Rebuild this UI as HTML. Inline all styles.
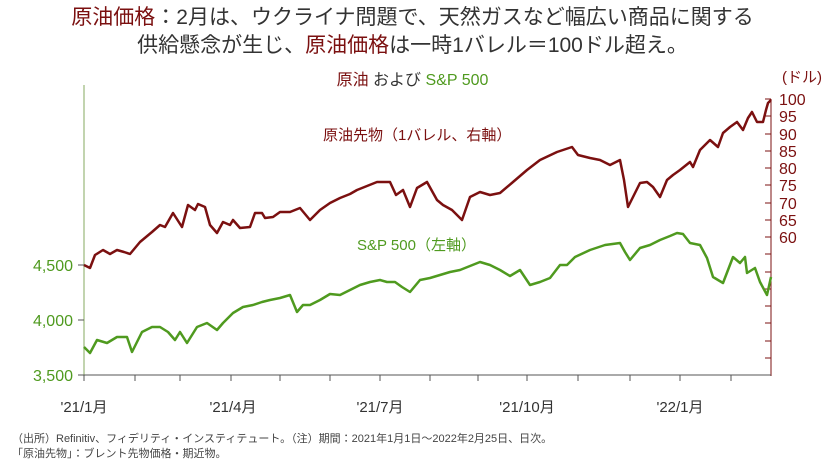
<!DOCTYPE html>
<html><head><meta charset="utf-8"><style>
body{margin:0;width:825px;height:464px;background:#fff;font-family:"Liberation Sans","Noto Sans CJK JP",sans-serif;overflow:hidden;position:relative}
.t{position:absolute;left:0;width:825px;text-align:center;font-size:21px;color:#333;line-height:24px}
.r{color:#7b1010}
.g{color:#4f9a1f}
.fn{position:absolute;left:12px;font-size:11px;color:#444}
</style></head><body>
<div class="t" style="top:6px"><span class="r">原油価格</span>：2月は、ウクライナ問題で、天然ガスなど幅広い商品に関する</div>
<div class="t" style="top:34px">供給懸念が生じ、<span class="r">原油価格</span>は一時1バレル＝100ドル超え。</div>
<div style="position:absolute;top:66px;left:0;width:825px;text-align:center;font-size:16px;color:#333"><span class="r">原油</span> および <span class="g">S&amp;P 500</span></div>
<svg width="825" height="464" style="position:absolute;left:0;top:0" font-family="Liberation Sans, Noto Sans CJK JP, sans-serif">
<line x1="84" y1="85" x2="84" y2="376" stroke="#9ab87a" stroke-width="1.2"/>
<line x1="771" y1="99" x2="771" y2="376" stroke="#7b1010" stroke-width="1"/>
<line x1="78" y1="375" x2="771" y2="375" stroke="#555" stroke-width="1"/>
<g stroke="#555">
<line x1="78" y1="265" x2="84" y2="265"/><line x1="78" y1="320" x2="84" y2="320"/>
<line x1="84" y1="375" x2="84" y2="381"/><line x1="135" y1="375" x2="135" y2="381"/><line x1="180" y1="375" x2="180" y2="381"/><line x1="231" y1="375" x2="231" y2="381"/><line x1="280" y1="375" x2="280" y2="381"/><line x1="330" y1="375" x2="330" y2="381"/><line x1="380" y1="375" x2="380" y2="381"/><line x1="430" y1="375" x2="430" y2="381"/><line x1="478" y1="375" x2="478" y2="381"/><line x1="527" y1="375" x2="527" y2="381"/><line x1="578" y1="375" x2="578" y2="381"/><line x1="630" y1="375" x2="630" y2="381"/><line x1="680" y1="375" x2="680" y2="381"/><line x1="731" y1="375" x2="731" y2="381"/>
</g>
<g stroke="#7b1010">
<line x1="765" y1="99" x2="771" y2="99"/><line x1="765" y1="116" x2="771" y2="116"/><line x1="765" y1="134" x2="771" y2="134"/><line x1="765" y1="151" x2="771" y2="151"/><line x1="765" y1="168" x2="771" y2="168"/><line x1="765" y1="185" x2="771" y2="185"/><line x1="765" y1="203" x2="771" y2="203"/><line x1="765" y1="220" x2="771" y2="220"/><line x1="765" y1="237" x2="771" y2="237"/><line x1="765" y1="254" x2="771" y2="254"/><line x1="765" y1="272" x2="771" y2="272"/><line x1="765" y1="289" x2="771" y2="289"/><line x1="765" y1="306" x2="771" y2="306"/><line x1="765" y1="323" x2="771" y2="323"/><line x1="765" y1="341" x2="771" y2="341"/><line x1="765" y1="358" x2="771" y2="358"/>
</g>
<g fill="#7b1010" font-size="16">
<text x="822" y="82" text-anchor="end" font-size="15">(ドル)</text>
<text x="779" y="105">100</text><text x="779" y="122">95</text><text x="779" y="140">90</text><text x="779" y="157">85</text><text x="779" y="174">80</text><text x="779" y="191">75</text><text x="779" y="209">70</text><text x="779" y="226">65</text><text x="779" y="243">60</text>
<text x="323" y="140" font-size="15">原油先物（1バレル、右軸）</text>
</g>
<g fill="#4f9a1f" font-size="16" text-anchor="end">
<text x="73" y="271">4,500</text><text x="73" y="326">4,000</text><text x="73" y="381">3,500</text>
</g>
<text x="357" y="250" fill="#4f9a1f" font-size="15">S&amp;P 500（左軸）</text>
<g fill="#333" font-size="15" text-anchor="middle">
<text x="84" y="412">'21/1月</text><text x="233" y="412">'21/4月</text><text x="380" y="412">'21/7月</text><text x="527" y="412">'21/10月</text><text x="680" y="412">'22/1月</text>
</g>
<polyline fill="none" stroke="#7b1010" stroke-width="2.5" stroke-linejoin="round" points="84,265 90,268 95,255 103,250 110,254 117,250 124,252 130,254 140,242 152,232 160,225 165,227 173,213 182,227 188,205 195,210 198,204 205,207 210,225 217,233 223,222 230,225 233,220 240,228 250,227 255,213 262,213 265,218 273,217 280,212 290,212 300,208 310,220 320,210 330,203 340,198 350,194 357,190 367,186 377,182 390,182 396,195 403,190 410,207 417,188 427,182 437,200 443,205 452,210 462,220 470,197 480,192 490,195 500,193 513,182 527,170 540,160 557,152 572,147 578,155 590,158 600,160 610,165 620,160 624,180 628,207 634,195 640,183 647,182 653,187 660,197 667,180 673,175 680,170 690,162 693,167 700,150 710,140 718,147 723,133 730,127 737,122 743,130 748,118 752,112 757,122 763,122 766,110 768,103 771,100"/>
<polyline fill="none" stroke="#4f9a1f" stroke-width="2.5" stroke-linejoin="round" points="84,347 90,353 97,340 107,343 117,337 127,337 132,352 142,332 152,327 160,327 168,332 175,340 180,332 187,343 197,327 207,323 217,330 223,323 233,313 243,307 253,305 262,302 270,300 280,298 290,295 297,312 303,305 310,305 320,300 330,294 340,295 350,290 360,285 370,282 380,280 387,282 395,282 402,287 410,292 420,280 430,278 440,275 450,272 460,270 470,266 480,262 490,265 500,270 510,276 520,270 530,285 540,282 550,278 560,265 567,265 575,257 590,250 605,245 620,243 625,252 630,260 640,248 650,245 660,240 670,236 677,233 683,234 690,243 700,245 707,258 713,277 723,283 733,257 740,263 745,257 747,273 755,268 760,282 767,295 771,277"/>
</svg>
<div class="fn" style="top:430px">（出所）Refinitiv、フィデリティ・インスティテュート。（注）期間：2021年1月1日～2022年2月25日、日次。</div>
<div class="fn" style="top:445px">「原油先物」：ブレント先物価格・期近物。</div>
</body></html>
